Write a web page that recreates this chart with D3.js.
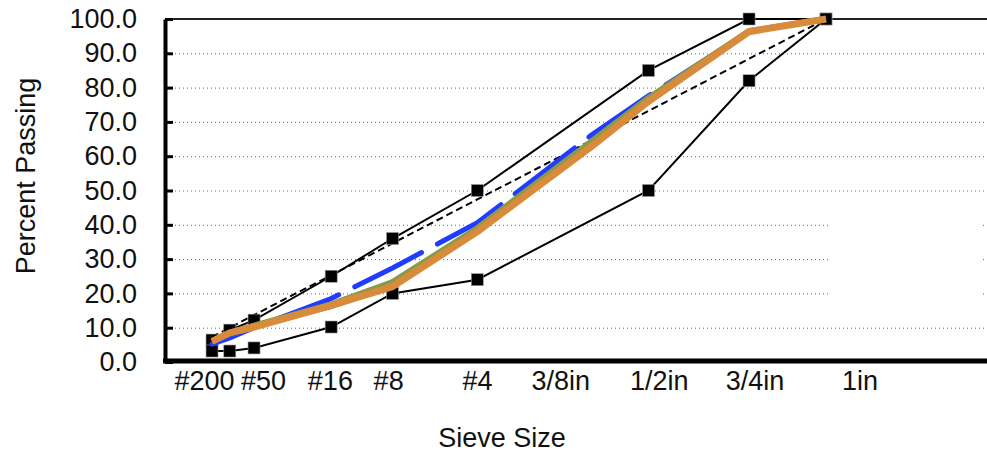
<!DOCTYPE html>
<html>
<head>
<meta charset="utf-8">
<script src="https://cdn.jsdelivr.net/npm/d3@7"></script>
<style>
  html, body { margin: 0; padding: 0; background: #fff; }
  svg { display: block; }
  text { font-family: "Liberation Sans", Arial, Helvetica, sans-serif; fill: #111; }
</style>
</head>
<body>
<svg id="chart" width="987" height="452"></svg>
<script>
// ---- data ----
const sieveLabels = ["#200", "#50", "#16", "#8", "#4", "3/8in", "1/2in", "3/4in", "1in"];
const labelAt = [0.05, 0.37, 1.16, 2.26, 4.74, 8.0, 13.1, 19.4, 27.9]; // label anchor sizes (mm)
const yTicks = [0, 10, 20, 30, 40, 50, 60, 70, 80, 90, 100];

const controlSizes = [0.075, 0.15, 0.3, 1.18, 2.36, 4.75, 12.5, 19, 25];
const upperLimit = [6.4, 9.3, 12.2, 25, 36, 50, 85, 100, 100];
const lowerLimit = [3.2, 3.2, 4.1, 10.2, 20, 24, 50, 82, 100];

const gradationSizes = [0.075, 0.15, 0.3, 1.18, 2.36, 4.75, 9.5, 12.5, 19, 25];
const maxDensity = [7.3, 10.0, 13.7, 25.3, 34.6, 47.4, 64.7, 73.2, 88.4, 100];
const blueBlend = [5.2, 7.0, 10.0, 18.5, 27.4, 40.6, 66.3, 77.6, 96.3, 100];
const redBlend = [5.6, 7.9, 9.8, 15.8, 21.8, 37.5, 62.8, 75.8, 96.2, 100];
const greenBlend = [6.0, 8.5, 10.6, 16.8, 23.3, 39.0, 64.5, 77.0, 96.5, 100];
const orangeBlend = [6.0, 8.5, 10.2, 16.5, 22.0, 38.0, 63.0, 76.0, 96.3, 100];

// ---- layout ----
const W = 987, H = 452;
const axisX = 165, plotTop = 19, plotBottom = 362;
const svg = d3.select("#chart");

const x = d3.scalePow().exponent(0.45).domain([0, 25]).range([163.5, 826]);
const y = d3.scaleLinear().domain([0, 100]).range([plotBottom, plotTop]);

// gridlines
svg.append("g").selectAll("line")
  .data(yTicks.filter(d => d > 0 && d < 100))
  .join("line")
  .attr("x1", axisX + 2).attr("x2", W)
  .attr("y1", d => y(d) + 0.5).attr("y2", d => y(d) + 0.5)
  .attr("stroke", "#666").attr("stroke-width", 1)
  .attr("stroke-dasharray", "1,3");

// top border line (100)
svg.append("line")
  .attr("x1", axisX).attr("x2", W)
  .attr("y1", y(100)).attr("y2", y(100))
  .attr("stroke", "#222").attr("stroke-width", 2);

// blank legend area hiding part of gridlines
svg.append("rect")
  .attr("x", 831).attr("y", 200).attr("width", 152).attr("height", 105)
  .attr("fill", "#fff");

// y axis
const yAxis = d3.axisLeft(y).tickValues(yTicks).tickFormat(d3.format(".1f"))
  .tickSizeInner(-8).tickSizeOuter(0).tickPadding(28);
const gy = svg.append("g").attr("transform", `translate(${axisX},0)`).call(yAxis);
gy.select(".domain").attr("stroke", "#000").attr("stroke-width", 4);
gy.selectAll(".tick line").attr("stroke", "#000").attr("stroke-width", 3);
gy.selectAll(".tick text").attr("font-size", 27).attr("fill", "#111")
  .attr("font-family", "'Liberation Sans', Arial, Helvetica, sans-serif");

// x axis
const xAxis = d3.axisBottom(x).tickValues(labelAt)
  .tickFormat((d, i) => sieveLabels[i]).tickSize(0).tickPadding(10);
const gx = svg.append("g").attr("transform", `translate(0,${plotBottom - 1})`).call(xAxis);
gx.select(".domain").remove();
gx.selectAll(".tick text").attr("font-size", 27).attr("fill", "#111")
  .attr("font-family", "'Liberation Sans', Arial, Helvetica, sans-serif");
svg.append("line")
  .attr("x1", 163).attr("x2", W)
  .attr("y1", plotBottom - 1).attr("y2", plotBottom - 1)
  .attr("stroke", "#000").attr("stroke-width", 5);

// axis titles
svg.append("text")
  .attr("transform", `translate(35,176) rotate(-90)`)
  .attr("text-anchor", "middle").attr("font-size", 27)
  .text("Percent Passing");
svg.append("text")
  .attr("x", 502).attr("y", 447)
  .attr("text-anchor", "middle").attr("font-size", 27)
  .text("Sieve Size");

// lines
const line = d3.line().x(d => x(d[0])).y(d => y(d[1]));
const zipC = vals => controlSizes.map((s, i) => [s, vals[i]]);
const zipG = vals => gradationSizes.map((s, i) => [s, vals[i]]);

svg.append("path").datum(zipC(upperLimit)).attr("d", line)
  .attr("fill", "none").attr("stroke", "#000").attr("stroke-width", 2);
svg.append("path").datum(zipC(lowerLimit)).attr("d", line)
  .attr("fill", "none").attr("stroke", "#000").attr("stroke-width", 2);
svg.append("path").datum(zipG(maxDensity)).attr("d", line)
  .attr("fill", "none").attr("stroke", "#000").attr("stroke-width", 2)
  .attr("stroke-dasharray", "7,4");

// markers
const markerData = zipC(upperLimit).concat(zipC(lowerLimit));
svg.append("g").selectAll("rect").data(markerData).join("rect")
  .attr("x", d => x(d[0]) - 6).attr("y", d => y(d[1]) - 6)
  .attr("width", 12).attr("height", 12)
  .attr("fill", "#000").attr("stroke", "#999").attr("stroke-width", 0.6);

// blends
svg.append("path").datum(zipG(blueBlend)).attr("d", line)
  .attr("fill", "none").attr("stroke", "#1f3cff").attr("stroke-width", 5)
  .attr("stroke-linecap", "round").attr("stroke-linejoin", "round")
  .attr("stroke-dasharray", "75,18").attr("stroke-dashoffset", 32);
svg.append("path").datum(zipG(redBlend)).attr("d", line)
  .attr("fill", "none").attr("stroke", "#c0392b").attr("stroke-width", 2.5)
  .attr("stroke-linejoin", "round");
svg.append("path").datum(zipG(greenBlend)).attr("d", line)
  .attr("fill", "none").attr("stroke", "#8a9a4a").attr("stroke-width", 6)
  .attr("stroke-linejoin", "round");
svg.append("path").datum(zipG(orangeBlend)).attr("d", line)
  .attr("fill", "none").attr("stroke", "#d98b3c").attr("stroke-width", 7)
  .attr("stroke-linejoin", "round");
</script>
</body>
</html>
